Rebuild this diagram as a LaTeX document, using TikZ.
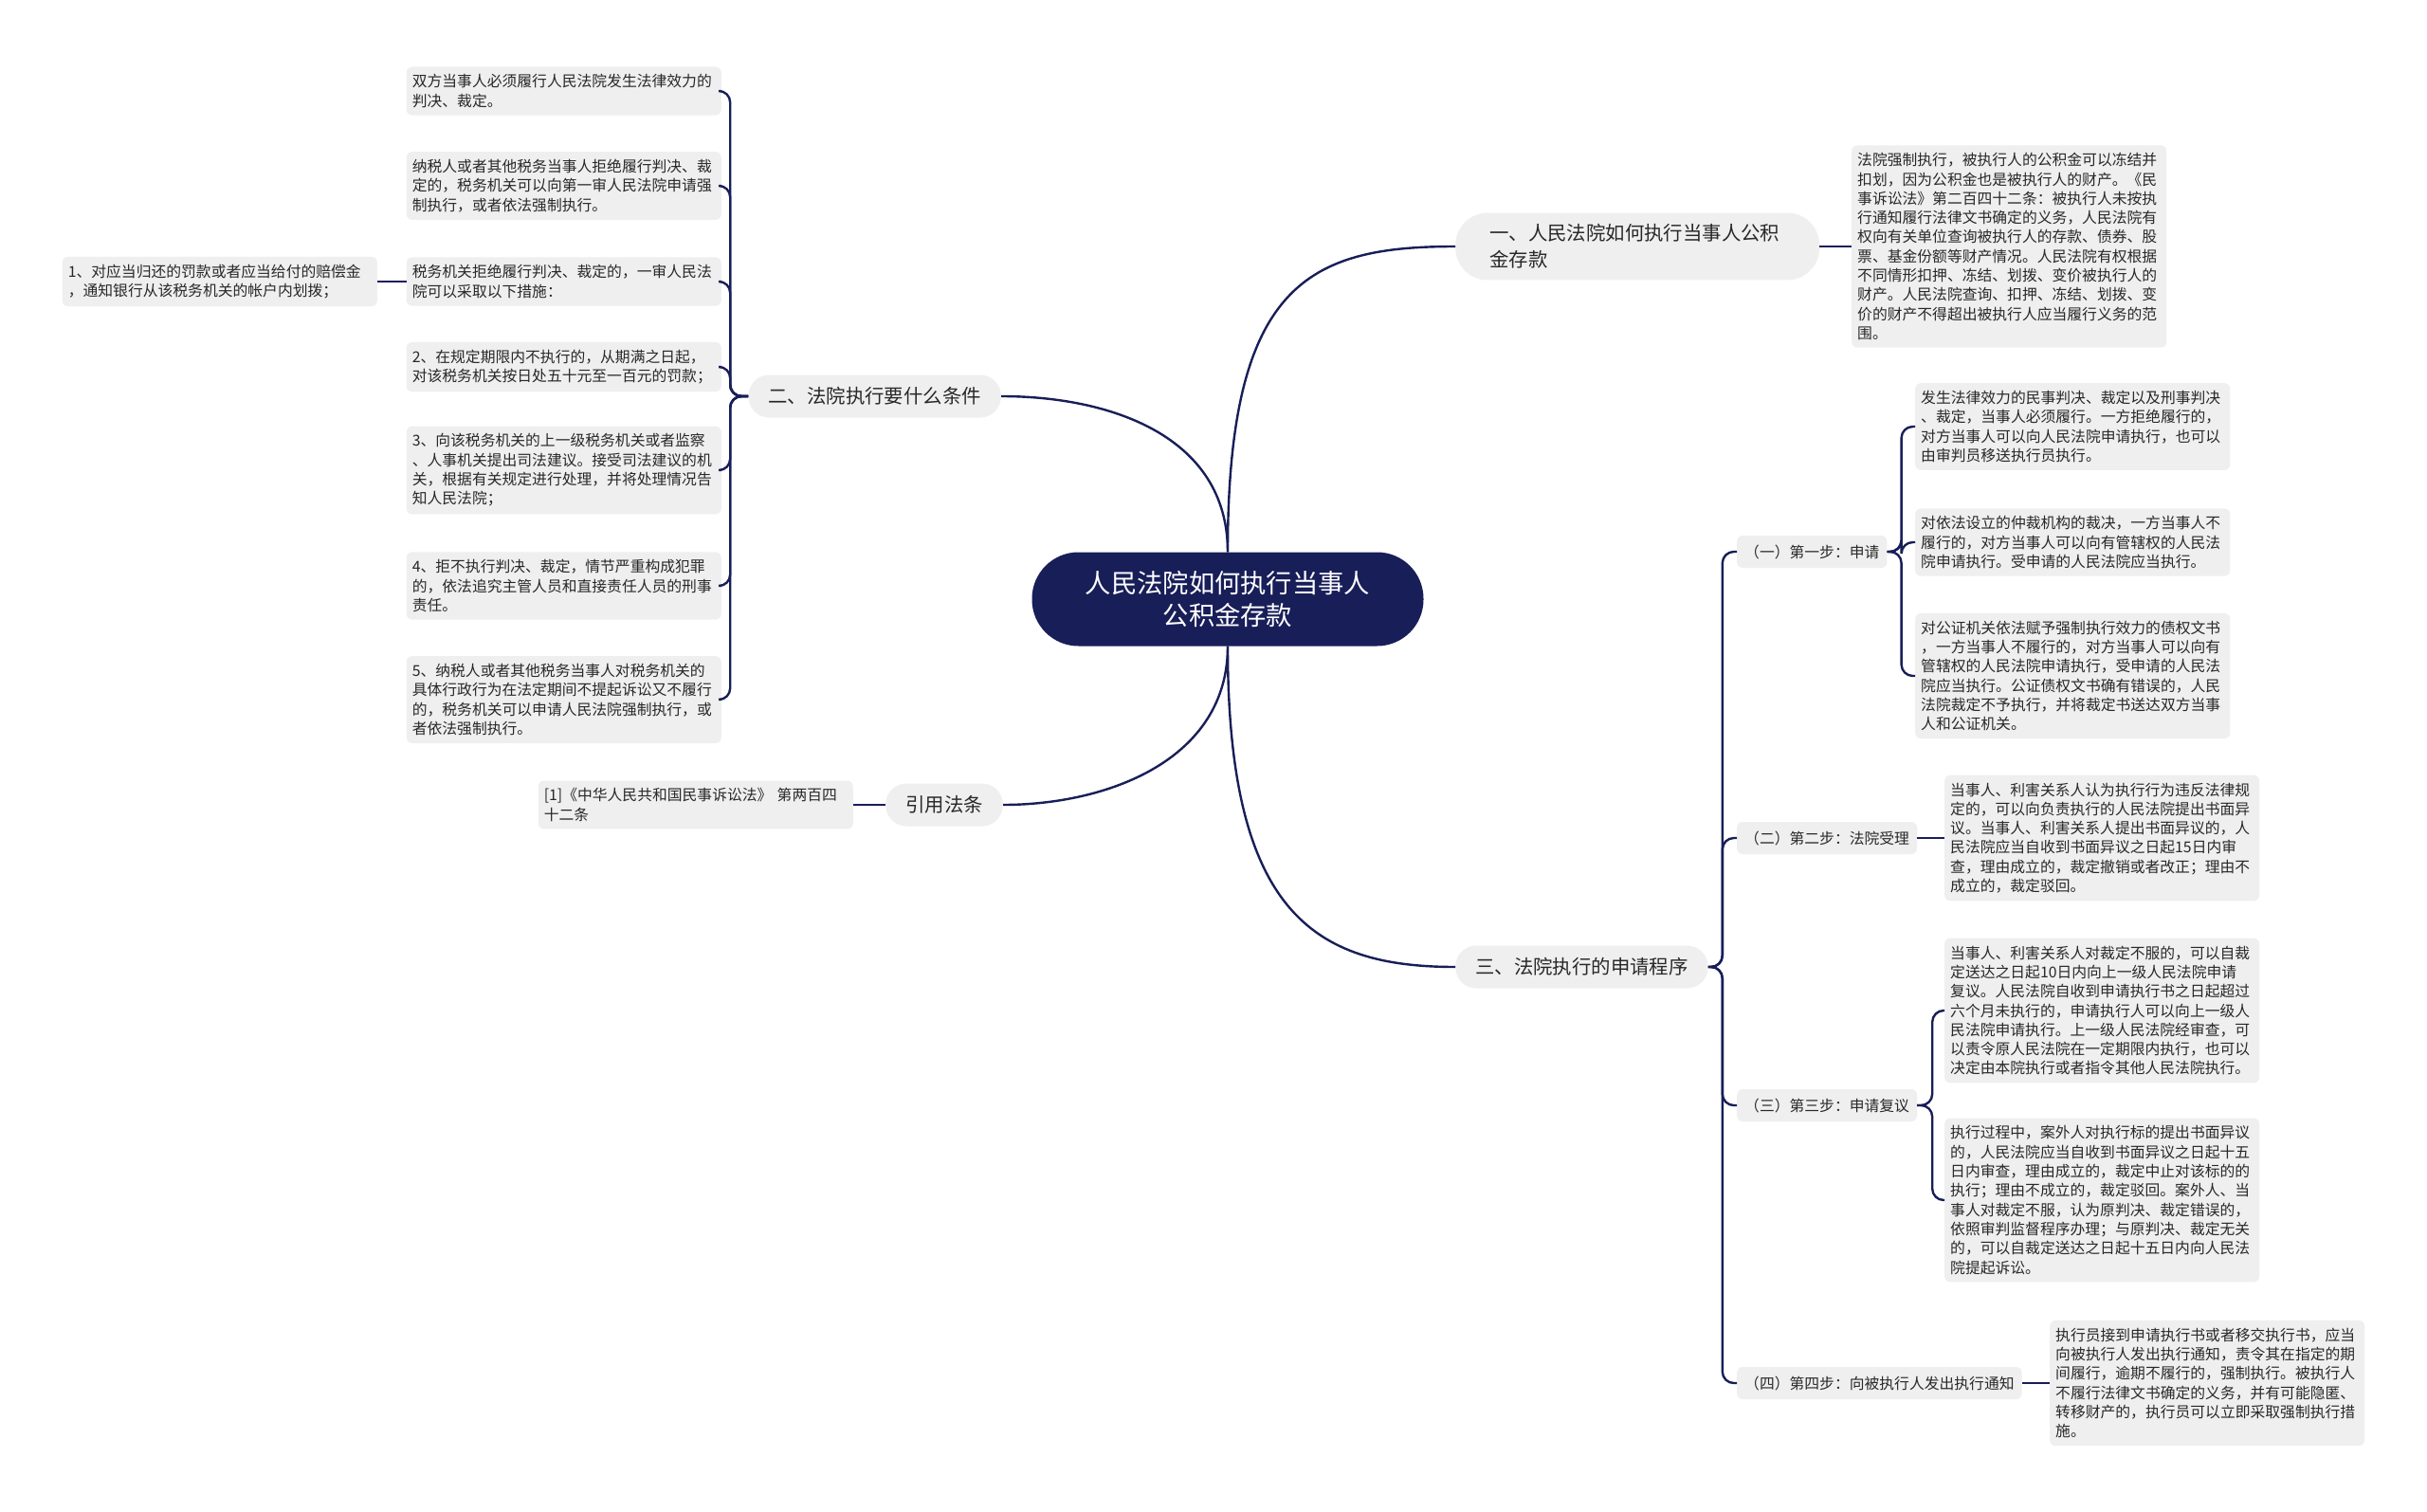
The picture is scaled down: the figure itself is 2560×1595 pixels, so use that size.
\documentclass[tikz,border=0pt]{standalone}
\usepackage{fontspec}
\newfontfamily\cjk{Noto Sans CJK SC}
\definecolor{navy}{RGB}{24,30,88}
\definecolor{boxgray}{RGB}{239,239,239}
\definecolor{txt}{RGB}{40,40,40}
\tikzset{
  conn/.style={draw=navy, line width=2.4pt, rounded corners=12pt},
  leaf/.style={fill=boxgray, rounded corners=6pt, text=txt,
    font=\cjk\fontsize{15.8}{20.3}\selectfont, align=left,
    text width=320pt, inner xsep=6pt, inner ysep=8pt},
  lvltwo/.style={fill=boxgray, rounded corners=6pt, text=txt,
    font=\cjk\fontsize{15.8}{20.3}\selectfont, minimum height=34pt,
    inner xsep=8pt, inner ysep=3pt, anchor=west},
  lvlone/.style={fill=boxgray, rounded corners=22pt, text=txt,
    font=\cjk\fontsize{20.4}{28}\selectfont, minimum height=45pt,
    inner xsep=21pt, inner ysep=4pt},
  rootbox/.style={fill=navy, text=white, rounded corners=49pt,
    minimum width=413pt, minimum height=99pt, align=center,
    font=\cjk\fontsize{27.3}{34}\selectfont}
}
\begin{document}
\begin{tikzpicture}[x=1pt,y=-1pt]
\useasboundingbox (0,0) rectangle (2560,1595);
\fill[white] (0,0) rectangle (2560,1595);

% root
\node[rootbox] (root) at (1295,632) {人民法院如何执行当事人\\公积金存款};

% level one
\node[lvlone, anchor=west, text width=312pt, align=left, inner xsep=36pt, inner ysep=12pt, rounded corners=34pt] (A) at (1535,260) {一、人民法院如何执行当事人公积\\金存款};
\node[lvlone, anchor=west] (B) at (1535,1020) {三、法院执行的申请程序};
\node[lvlone, anchor=east] (C) at (1056,418) {二、法院执行要什么条件};
\node[lvlone, anchor=east] (D) at (1058,849) {引用法条};

% A child
\node[leaf, anchor=west] (Aa) at (1953,260) {法院强制执行，被执行人的公积金可以冻结并\\扣划，因为公积金也是被执行人的财产。《民\\事诉讼法》第二百四十二条：被执行人未按执\\行通知履行法律文书确定的义务，人民法院有\\权向有关单位查询被执行人的存款、债券、股\\票、基金份额等财产情况。人民法院有权根据\\不同情形扣押、冻结、划拨、变价被执行人的\\财产。人民法院查询、扣押、冻结、划拨、变\\价的财产不得超出被执行人应当履行义务的范\\围。};

% B children
\node[lvltwo] (B1) at (1832,582) {（一）第一步：申请};
\node[lvltwo] (B2) at (1832,884) {（二）第二步：法院受理};
\node[lvltwo] (B3) at (1832,1166) {（三）第三步：申请复议};
\node[lvltwo] (B4) at (1832,1459) {（四）第四步：向被执行人发出执行通知};

\node[leaf, anchor=west] (B1a) at (2020,450) {发生法律效力的民事判决、裁定以及刑事判决\\、裁定，当事人必须履行。一方拒绝履行的，\\对方当事人可以向人民法院申请执行，也可以\\由审判员移送执行员执行。};
\node[leaf, anchor=west] (B1b) at (2020,572) {对依法设立的仲裁机构的裁决，一方当事人不\\履行的，对方当事人可以向有管辖权的人民法\\院申请执行。受申请的人民法院应当执行。};
\node[leaf, anchor=west] (B1c) at (2020,713) {对公证机关依法赋予强制执行效力的债权文书\\，一方当事人不履行的，对方当事人可以向有\\管辖权的人民法院申请执行，受申请的人民法\\院应当执行。公证债权文书确有错误的，人民\\法院裁定不予执行，并将裁定书送达双方当事\\人和公证机关。};
\node[leaf, anchor=west] (B2a) at (2051,884) {当事人、利害关系人认为执行行为违反法律规\\定的，可以向负责执行的人民法院提出书面异\\议。当事人、利害关系人提出书面异议的，人\\民法院应当自收到书面异议之日起15日内审\\查，理由成立的，裁定撤销或者改正；理由不\\成立的，裁定驳回。};
\node[leaf, anchor=west] (B3a) at (2051,1066) {当事人、利害关系人对裁定不服的，可以自裁\\定送达之日起10日内向上一级人民法院申请\\复议。人民法院自收到申请执行书之日起超过\\六个月未执行的，申请执行人可以向上一级人\\民法院申请执行。上一级人民法院经审查，可\\以责令原人民法院在一定期限内执行，也可以\\决定由本院执行或者指令其他人民法院执行。};
\node[leaf, anchor=west] (B3b) at (2051,1266) {执行过程中，案外人对执行标的提出书面异议\\的，人民法院应当自收到书面异议之日起十五\\日内审查，理由成立的，裁定中止对该标的的\\执行；理由不成立的，裁定驳回。案外人、当\\事人对裁定不服，认为原判决、裁定错误的，\\依照审判监督程序办理；与原判决、裁定无关\\的，可以自裁定送达之日起十五日内向人民法\\院提起诉讼。};
\node[leaf, anchor=west] (B4a) at (2162,1459) {执行员接到申请执行书或者移交执行书，应当\\向被执行人发出执行通知，责令其在指定的期\\间履行，逾期不履行的，强制执行。被执行人\\不履行法律文书确定的义务，并有可能隐匿、\\转移财产的，执行员可以立即采取强制执行措\\施。};

% C children
\node[leaf, anchor=east] (C1) at (761,96) {双方当事人必须履行人民法院发生法律效力的\\判决、裁定。};
\node[leaf, anchor=east] (C2) at (761,196) {纳税人或者其他税务当事人拒绝履行判决、裁\\定的，税务机关可以向第一审人民法院申请强\\制执行，或者依法强制执行。};
\node[leaf, anchor=east] (C3) at (761,297) {税务机关拒绝履行判决、裁定的，一审人民法\\院可以采取以下措施：};
\node[leaf, anchor=east] (C3a) at (398,297) {1、对应当归还的罚款或者应当给付的赔偿金\\，通知银行从该税务机关的帐户内划拨；};
\node[leaf, anchor=east] (C4) at (761,387) {2、在规定期限内不执行的，从期满之日起，\\对该税务机关按日处五十元至一百元的罚款；};
\node[leaf, anchor=east] (C5) at (761,496) {3、向该税务机关的上一级税务机关或者监察\\、人事机关提出司法建议。接受司法建议的机\\关，根据有关规定进行处理，并将处理情况告\\知人民法院；};
\node[leaf, anchor=east] (C6) at (761,618) {4、拒不执行判决、裁定，情节严重构成犯罪\\的，依法追究主管人员和直接责任人员的刑事\\责任。};
\node[leaf, anchor=east] (C7) at (761,738) {5、纳税人或者其他税务当事人对税务机关的\\具体行政行为在法定期间不提起诉讼又不履行\\的，税务机关可以申请人民法院强制执行，或\\者依法强制执行。};

% D child
\node[leaf, anchor=east] (Da) at (900,849) {[1]《中华人民共和国民事诉讼法》 第两百四\\十二条};

% connectors from root
\draw[conn] (root.north) .. controls +(0,-283) and +(-155,0) .. (A.west);
\draw[conn] (root.north) .. controls +(0,-123) and +(114,0) .. (C.east);
\draw[conn] (root.south) .. controls +(0,280) and +(-150,0) .. (B.west);
\draw[conn] (root.south) .. controls +(0,120) and +(110,0) .. (D.east);

% straight single-child connectors
\draw[conn] (A.east) -- (Aa.west);
\draw[conn] (D.west) -- (Da.east);
\draw[conn] (C3.west) -- (C3a.east);
\draw[conn] (B2.east) -- (B2a.west);
\draw[conn] (B4.east) -- (B4a.west);

% brackets
\foreach \c in {C1,C2,C3,C4,C5,C6,C7}
  \draw[conn] (C.west) -- ++(-19,0) |- (\c.east);
\foreach \c in {B1,B2,B3,B4}
  \draw[conn] (B.east) -- ++(15,0) |- (\c.west);
\foreach \c in {B1a,B1b,B1c}
  \draw[conn] (B1.east) -- ++(15,0) |- (\c.west);
\foreach \c in {B3a,B3b}
  \draw[conn] (B3.east) -- ++(16,0) |- (\c.west);
\end{tikzpicture}
\end{document}
